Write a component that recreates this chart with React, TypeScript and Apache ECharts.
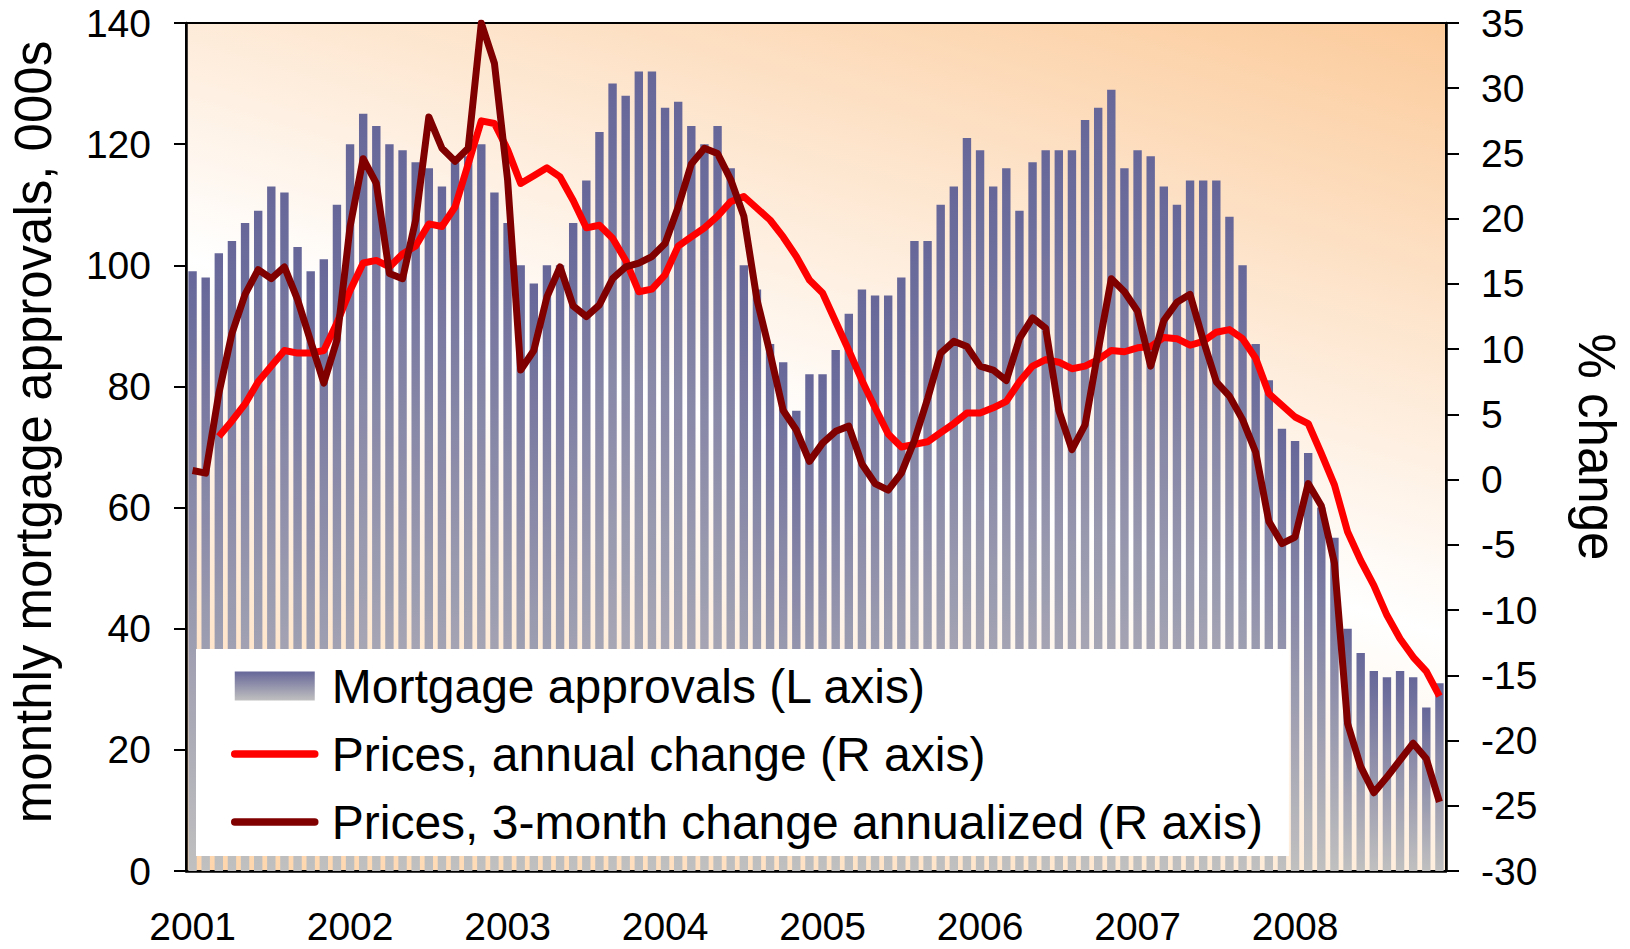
import React, { useEffect, useRef } from "react";
import * as echarts from "echarts";

const years = ["2001", "2002", "2003", "2004", "2005", "2006", "2007", "2008"];
const monthNums = ["01", "02", "03", "04", "05", "06", "07", "08", "09", "10", "11", "12"];
const months = years.flatMap((y) => monthNums.map((m) => `${y}-${m}`));

// Mortgage approvals, 000s (L axis)
const approvals = [
  99, 98, 102, 104, 107, 109, 113, 112, 103, 99, 101, 110,
  120, 125, 123, 120, 119, 117, 116, 113, 117, 118, 120, 112,
  107, 100, 97, 100, 100, 107, 114, 122, 130, 128, 132, 132,
  126, 127, 123, 120, 123, 116, 100, 96, 87, 84, 76, 82,
  82, 86, 92, 96, 95, 95, 98, 104, 104, 110, 113, 121,
  119, 113, 116, 109, 117, 119, 119, 119, 124, 126, 129, 116,
  119, 118, 113, 110, 114, 114, 114, 108, 100, 87, 81, 73,
  71, 69, 60, 55, 40, 36, 33, 32, 33, 32, 27, 31,
];

// Prices, annual change, % (R axis)
const annualChange = [
  null, null, 3.3, 4.5, 5.8, 7.5, 8.7, 9.9, 9.7, 9.7, 9.9, 12.0,
  14.5, 16.6, 16.8, 16.3, 17.3, 17.9, 19.6, 19.4, 20.9, 24.2, 27.5, 27.3,
  25.3, 22.7, 23.3, 23.9, 23.2, 21.4, 19.3, 19.5, 18.5, 16.8, 14.4, 14.6,
  15.7, 17.9, 18.6, 19.3, 20.2, 21.3, 21.7, 20.8, 19.9, 18.6, 17.1, 15.3,
  14.3, 12.1, 9.9, 7.6, 5.5, 3.5, 2.5, 2.7, 2.9, 3.6, 4.3, 5.1,
  5.1, 5.5, 6.0, 7.5, 8.7, 9.2, 9.0, 8.5, 8.7, 9.2, 9.9, 9.8,
  10.1, 10.2, 10.9, 10.8, 10.3, 10.6, 11.3, 11.5, 10.8, 9.3, 6.6, 5.7,
  4.8, 4.3, 2.0, -0.4, -4.0, -6.2, -8.1, -10.4, -12.2, -13.6, -14.7, -16.6,
];

// Prices, 3-month change annualized, % (R axis)
const threeMonthChange = [
  0.7, 0.5, 6.6, 11.2, 14.2, 16.1, 15.4, 16.3, 13.8, 10.6, 7.4, 10.7,
  19.4, 24.6, 22.7, 15.8, 15.4, 19.9, 27.8, 25.4, 24.4, 25.4, 35.0, 31.9,
  23.0, 8.4, 9.9, 14.0, 16.3, 13.3, 12.5, 13.4, 15.4, 16.3, 16.6, 17.1,
  18.1, 20.9, 24.2, 25.4, 25.0, 23.0, 20.2, 13.8, 9.7, 5.3, 3.8, 1.4,
  2.8, 3.7, 4.1, 1.2, -0.3, -0.8, 0.5, 3.0, 6.2, 9.7, 10.6, 10.2,
  8.7, 8.4, 7.6, 10.8, 12.4, 11.6, 5.3, 2.3, 4.2, 9.9, 15.4, 14.4,
  12.9, 8.7, 12.2, 13.6, 14.2, 10.7, 7.5, 6.4, 4.6, 2.1, -3.2, -4.9,
  -4.4, -0.3, -2.0, -6.4, -18.7, -22.0, -24.0, -22.8, -21.5, -20.2, -21.4, -24.7,
];

const seriesNames = [
  "Mortgage approvals (L axis)",
  "Prices, annual change (R axis)",
  "Prices, 3-month change annualized (R axis)",
];
const leftAxisName = "monthly mortgage approvals, 000s";
const rightAxisName = "% change";

const FONT = "'Liberation Sans', Arial, Helvetica, sans-serif";

export default function App() {
  const ref = useRef<HTMLDivElement>(null);

  useEffect(() => {
    if (!ref.current) return;
    document.documentElement.style.overflow = "hidden";
    document.body.style.margin = "0";
    document.body.style.overflow = "hidden";
    const chart = echarts.init(ref.current, undefined, {
      renderer: "svg",
      width: 1630,
      height: 949,
    });

    const barGradient = new echarts.graphic.LinearGradient(0, 0, 0, 1, [
      { offset: 0, color: "#666699" },
      { offset: 1, color: "#C0C0C0" },
    ]);
    const bgGradient = new echarts.graphic.LinearGradient(0.192, 1.192, 0.808, -0.192, [
      { offset: 0, color: "#FFCF9E" },
      { offset: 0.5, color: "#FFFFFF" },
      { offset: 1, color: "#FBC38C" },
    ]);

    const option: any = {
      animation: false,
      backgroundColor: "#FFFFFF",
      textStyle: { fontFamily: FONT, color: "#000" },
      grid: {
        left: 185,
        right: 174,
        top: 23,
        bottom: 78,
        show: true,
        backgroundColor: bgGradient,
        borderColor: "#000",
        borderWidth: 2,
      },
      legend: {
        orient: "vertical",
        left: 196,
        top: 649,
        padding: [13, 26, 10, 35],
        backgroundColor: "#FFFFFF",
        itemWidth: 80,
        itemHeight: 29,
        itemGap: 20,
        textStyle: {
          fontFamily: FONT,
          fontSize: 48,
          lineHeight: 48,
          color: "#000",
          padding: [0, 0, 0, 12],
        },
        lineStyle: { width: 7.5, cap: "round" },
        data: [
          { name: seriesNames[0], icon: "rect" },
          { name: seriesNames[1], itemStyle: { opacity: 0 } },
          { name: seriesNames[2], itemStyle: { opacity: 0 } },
        ],
      },
      xAxis: {
        type: "category",
        data: months,
        boundaryGap: true,
        axisLine: { show: true, lineStyle: { color: "#000", width: 2.5 } },
        axisTick: { show: false },
        axisLabel: {
          interval: 11,
          margin: 36,
          fontSize: 39,
          fontFamily: FONT,
          color: "#000",
          formatter: (v: string) => v.slice(0, 4),
        },
        splitLine: { show: false },
      },
      yAxis: [
        {
          type: "value",
          position: "left",
          min: 0,
          max: 140,
          interval: 20,
          name: leftAxisName,
          nameLocation: "middle",
          nameGap: 127,
          nameTextStyle: {
            fontSize: 51,
            fontFamily: FONT,
            color: "#000",
            padding: [0, 0, 0, 30],
          },
          axisLine: { show: true, lineStyle: { color: "#000", width: 2.5 } },
          axisTick: { show: true, inside: false, length: 12, lineStyle: { color: "#000", width: 2 } },
          axisLabel: { fontSize: 39, margin: 35, color: "#000", fontFamily: FONT },
          splitLine: { show: false },
        },
        {
          type: "value",
          position: "right",
          min: -30,
          max: 35,
          interval: 5,
          name: rightAxisName,
          nameLocation: "middle",
          nameGap: 125,
          nameRotate: -90,
          nameTextStyle: { fontSize: 51, fontFamily: FONT, color: "#000" },
          axisLine: { show: true, lineStyle: { color: "#000", width: 2.5 } },
          axisTick: { show: true, inside: false, length: 13, lineStyle: { color: "#000", width: 2 } },
          axisLabel: { fontSize: 39, margin: 35, color: "#000", fontFamily: FONT },
          splitLine: { show: false },
        },
      ],
      series: [
        {
          name: seriesNames[0],
          type: "bar",
          yAxisIndex: 0,
          barWidth: "64%",
          data: approvals,
          itemStyle: { color: barGradient },
          z: 2,
        },
        {
          name: seriesNames[1],
          type: "line",
          yAxisIndex: 1,
          data: annualChange,
          symbol: "none",
          color: "#FF0000",
          lineStyle: { color: "#FF0000", width: 7, join: "round" },
          z: 3,
        },
        {
          name: seriesNames[2],
          type: "line",
          yAxisIndex: 1,
          data: threeMonthChange,
          symbol: "none",
          color: "#800000",
          lineStyle: { color: "#800000", width: 7, join: "round" },
          z: 4,
        },
      ],
    };

    chart.setOption(option);
    return () => {
      chart.dispose();
    };
  }, []);

  return (
    <div
      ref={ref}
      style={{ position: "absolute", left: 0, top: 0, width: 1630, height: 949 }}
    />
  );
}
